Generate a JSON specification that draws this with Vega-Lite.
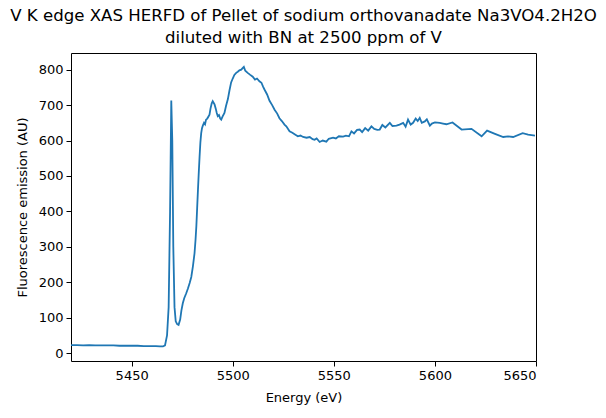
{
  "$schema": "https://vega.github.io/schema/vega-lite/v6.json",
  "width": 465,
  "height": 308,
  "autosize": {"type": "none"},
  "padding": {"left": 71, "top": 53, "right": 70, "bottom": 57},
  "background": "white",
  "config": {
    "font": "DejaVu Sans",
    "view": {"stroke": "black", "strokeWidth": 1},
    "axis": {"grid": false, "domain": false, "tickColor": "black", "tickSize": 5, "labelColor": "black", "labelFontSize": 13, "labelFont": "DejaVu Sans", "titleFont": "DejaVu Sans", "titleFontSize": 13, "titleFontWeight": "normal", "titleColor": "black", "labelPadding": 3}
  },
  "title": {
    "text": ["V K edge XAS HERFD of Pellet of sodium orthovanadate Na3VO4.2H2O", "diluted with BN at 2500 ppm of V"],
    "fontSize": 16.6,
    "fontWeight": "normal",
    "font": "DejaVu Sans",
    "color": "black",
    "lineHeight": 22,
    "anchor": "middle",
    "offset": 6
  },
  "data": {
    "values": [
      {"e": 5420, "v": 23}, {"e": 5423, "v": 23}, {"e": 5426, "v": 22}, {"e": 5429, "v": 23}, {"e": 5432, "v": 22},
      {"e": 5435, "v": 22}, {"e": 5438, "v": 22}, {"e": 5441, "v": 22}, {"e": 5444, "v": 21}, {"e": 5447, "v": 21},
      {"e": 5450, "v": 21}, {"e": 5453, "v": 21}, {"e": 5456, "v": 20}, {"e": 5459, "v": 20}, {"e": 5462, "v": 20},
      {"e": 5464, "v": 19}, {"e": 5465.5, "v": 19}, {"e": 5466.5, "v": 22}, {"e": 5467.5, "v": 50}, {"e": 5468.3, "v": 130},
      {"e": 5469, "v": 400}, {"e": 5469.6, "v": 713}, {"e": 5470.1, "v": 600}, {"e": 5470.6, "v": 300}, {"e": 5471.2, "v": 130},
      {"e": 5471.8, "v": 90}, {"e": 5472.5, "v": 82}, {"e": 5473.2, "v": 80}, {"e": 5474, "v": 95}, {"e": 5474.6, "v": 120},
      {"e": 5475.3, "v": 141}, {"e": 5476, "v": 155}, {"e": 5477, "v": 169}, {"e": 5477.8, "v": 182}, {"e": 5478.7, "v": 198},
      {"e": 5479.5, "v": 215}, {"e": 5480.3, "v": 245}, {"e": 5481.1, "v": 282}, {"e": 5481.6, "v": 320}, {"e": 5482.0, "v": 358},
      {"e": 5482.4, "v": 410}, {"e": 5482.8, "v": 461}, {"e": 5483.2, "v": 510}, {"e": 5483.6, "v": 555}, {"e": 5484, "v": 595},
      {"e": 5484.4, "v": 621}, {"e": 5484.8, "v": 635}, {"e": 5485.2, "v": 642}, {"e": 5485.8, "v": 650}, {"e": 5486.3, "v": 646},
      {"e": 5486.8, "v": 659}, {"e": 5487.4, "v": 662}, {"e": 5488, "v": 668}, {"e": 5488.5, "v": 673}, {"e": 5489, "v": 690},
      {"e": 5489.6, "v": 705}, {"e": 5490.1, "v": 711}, {"e": 5490.6, "v": 706}, {"e": 5491, "v": 702}, {"e": 5491.6, "v": 690},
      {"e": 5492.1, "v": 678}, {"e": 5492.6, "v": 669}, {"e": 5493.2, "v": 672}, {"e": 5493.8, "v": 662}, {"e": 5494.3, "v": 659},
      {"e": 5495, "v": 668}, {"e": 5495.9, "v": 678}, {"e": 5496.7, "v": 698}, {"e": 5497.6, "v": 717}, {"e": 5498.4, "v": 742},
      {"e": 5499.2, "v": 764}, {"e": 5500, "v": 775}, {"e": 5500.8, "v": 785}, {"e": 5501.7, "v": 791}, {"e": 5502.5, "v": 794},
      {"e": 5503.3, "v": 798}, {"e": 5504.2, "v": 800}, {"e": 5505, "v": 805}, {"e": 5505.5, "v": 808}, {"e": 5506.2, "v": 797},
      {"e": 5507.4, "v": 791}, {"e": 5508.5, "v": 786}, {"e": 5509.9, "v": 780}, {"e": 5511, "v": 772}, {"e": 5512, "v": 775},
      {"e": 5513.2, "v": 767}, {"e": 5514.2, "v": 763}, {"e": 5515, "v": 752}, {"e": 5515.7, "v": 744}, {"e": 5517, "v": 730},
      {"e": 5518.2, "v": 712}, {"e": 5519.5, "v": 700}, {"e": 5520.7, "v": 687}, {"e": 5522, "v": 676}, {"e": 5523.1, "v": 663},
      {"e": 5524.3, "v": 655}, {"e": 5525.6, "v": 645}, {"e": 5526.5, "v": 640}, {"e": 5528.1, "v": 626}, {"e": 5529.5, "v": 622},
      {"e": 5530.6, "v": 618}, {"e": 5532.2, "v": 612}, {"e": 5533.5, "v": 614}, {"e": 5534.8, "v": 610}, {"e": 5536.5, "v": 608},
      {"e": 5538.1, "v": 610}, {"e": 5539.5, "v": 604}, {"e": 5540.5, "v": 602}, {"e": 5541.5, "v": 606}, {"e": 5543, "v": 596},
      {"e": 5544.5, "v": 600}, {"e": 5546.3, "v": 597}, {"e": 5547.5, "v": 605}, {"e": 5549.6, "v": 608}, {"e": 5551, "v": 606},
      {"e": 5552.5, "v": 612}, {"e": 5554.6, "v": 611}, {"e": 5556, "v": 614}, {"e": 5557.5, "v": 612}, {"e": 5558.7, "v": 626},
      {"e": 5560, "v": 620}, {"e": 5561.5, "v": 630}, {"e": 5562.8, "v": 631}, {"e": 5564, "v": 624}, {"e": 5565.5, "v": 635},
      {"e": 5567, "v": 628}, {"e": 5568.6, "v": 640}, {"e": 5570, "v": 633}, {"e": 5571.5, "v": 630}, {"e": 5572.7, "v": 631},
      {"e": 5574, "v": 644}, {"e": 5575.5, "v": 637}, {"e": 5577.7, "v": 650}, {"e": 5579, "v": 641}, {"e": 5581, "v": 642},
      {"e": 5582.5, "v": 645}, {"e": 5584.3, "v": 650}, {"e": 5585.5, "v": 639}, {"e": 5586.7, "v": 659}, {"e": 5588, "v": 645},
      {"e": 5589.2, "v": 650}, {"e": 5590.5, "v": 662}, {"e": 5591.5, "v": 655}, {"e": 5592.5, "v": 664}, {"e": 5593.5, "v": 650},
      {"e": 5595, "v": 654}, {"e": 5596, "v": 660}, {"e": 5597.5, "v": 642}, {"e": 5598.5, "v": 648}, {"e": 5600, "v": 651},
      {"e": 5602.4, "v": 650}, {"e": 5604, "v": 648}, {"e": 5605.7, "v": 646}, {"e": 5608.7, "v": 651}, {"e": 5613.2, "v": 631},
      {"e": 5618.1, "v": 633}, {"e": 5623.1, "v": 612}, {"e": 5625.8, "v": 628}, {"e": 5629.7, "v": 619}, {"e": 5633.8, "v": 610},
      {"e": 5636.2, "v": 612}, {"e": 5638.7, "v": 610}, {"e": 5643.4, "v": 621}, {"e": 5646.1, "v": 617}, {"e": 5649.5, "v": 614}
    ]
  },
  "mark": {"type": "line", "color": "#1f77b4", "strokeWidth": 1.8, "clip": true},
  "encoding": {
    "x": {
      "field": "e", "type": "quantitative",
      "scale": {"domain": [5420, 5650], "nice": false, "zero": false},
      "axis": {"title": "Energy (eV)", "format": "d", "values": [5450, 5500, 5550, 5600, 5650], "titlePadding": 9}
    },
    "y": {
      "field": "v", "type": "quantitative",
      "scale": {"domain": [-22, 847], "nice": false, "zero": false},
      "axis": {"title": "Fluorescence emission (AU)", "format": "d", "values": [0, 100, 200, 300, 400, 500, 600, 700, 800], "titlePadding": 9}
    }
  }
}
